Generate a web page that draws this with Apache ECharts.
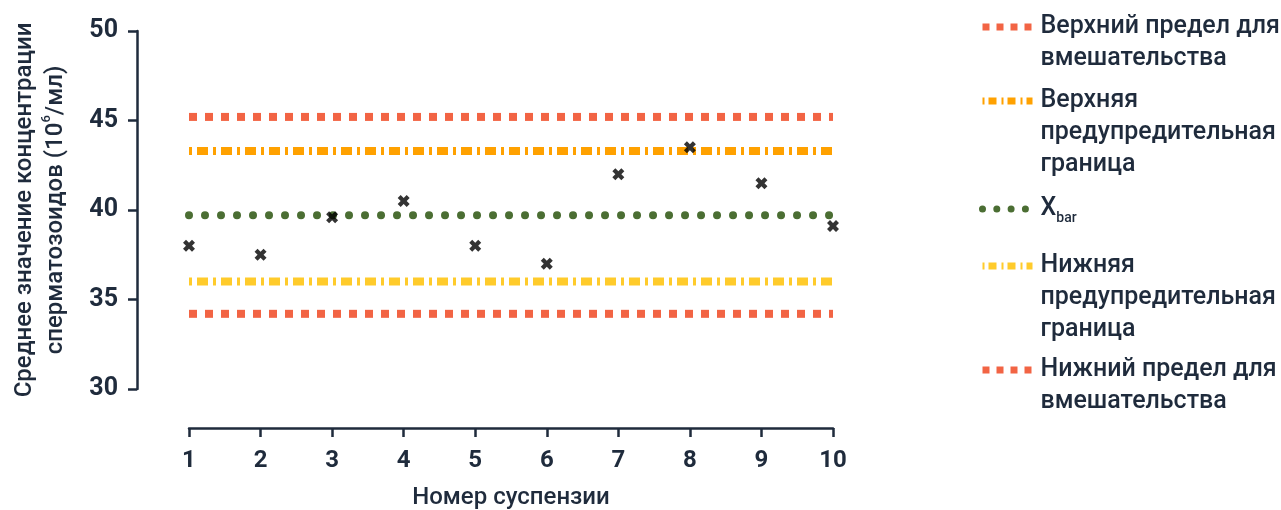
<!DOCTYPE html>
<html>
<head>
<meta charset="utf-8">
<script src="https://cdn.jsdelivr.net/npm/echarts@6/dist/echarts.min.js"></script>
<style>
	html, body { margin: 0; padding: 0; background: #fff; }
	#chart { width: 1281px; height: 510px; }
</style>
</head>
<body>
<div id="chart"></div>
<script>
	// номер суспензии и средняя концентрация
	const suspensions = [1, 2, 3, 4, 5, 6, 7, 8, 9, 10];
	const meanConc = [38.0, 37.5, 39.6, 40.5, 38.0, 37.0, 42.0, 43.5, 41.5, 39.1];

	// контрольные границы
	const upperAction = 45.2;
	const upperWarning = 43.3;
	const xBar = 39.7;
	const lowerWarning = 36.0;
	const lowerAction = 34.2;

	// шкалы
	const yMin = 30, yMax = 50, yStep = 5;

	const names = {
		ucl: 'Верхний предел для\nвмешательства',
		uwl: 'Верхняя\nпредупредительная\nграница',
		xbar: 'Xbar',
		lwl: 'Нижняя\nпредупредительная\nграница',
		lcl: 'Нижний предел для\nвмешательства'
	};

	const red = '#f26444';
	const orange = '#ffa100';
	const yellow = '#ffcb2b';
	const green = '#4b6e33';
	const ink = '#1f2b3c';
	const font = 'Roboto';
	const lh = 32;

	function hline(v) {
		return [[suspensions[0], v], [suspensions[suspensions.length - 1], v]];
	}

	function limitSeries(name, v, color, dash, cap) {
		return {
			name: name,
			type: 'line',
			symbol: 'none',
			silent: true,
			data: hline(v),
			itemStyle: { color: color },
			lineStyle: { color: color, width: 8, type: dash, cap: cap || 'butt' },
			z: 2
		};
	}

	// отдельная легенда на каждую строку, чтобы значок стоял у первой строки текста
	function legendItem(name, nLines, firstLineY, dash, width) {
		return {
			data: [name],
			orient: 'vertical',
			left: 979,
			top: firstLineY - (nLines - 0.5) * lh,
			padding: 0,
			itemWidth: 50,
			itemHeight: 14,
			selectedMode: false,
			itemStyle: { opacity: 0 },
			lineStyle: { type: dash, width: width },
			formatter: function (n) {
				return n === 'Xbar' ? '{x|X}{sub|bar}' : n;
			},
			textStyle: {
				fontFamily: font,
				fontSize: 25,
				fontWeight: 500,
				color: ink,
				lineHeight: lh,
				padding: [(nLines - 1) * lh, 0, 0, 3],
				rich: {
					x: { fontFamily: font, fontSize: 25, fontWeight: 500, color: ink, lineHeight: lh },
					sub: { fontFamily: font, fontSize: 14, fontWeight: 500, color: ink, lineHeight: 16, verticalAlign: 'bottom', padding: [14, 0, 0, 0] }
				}
			}
		};
	}

	const chart = echarts.init(document.getElementById('chart'));

	const option = {
		animation: false,
		grid: { left: 189, right: 448, top: 31, bottom: 121, outerBoundsMode: 'none' },
		legend: [
			legendItem(names.ucl, 2, 27, [7, 7], 7),
			legendItem(names.uwl, 3, 101, [2, 4, 8, 5], 7),
			legendItem(names.xbar, 1, 209, [0.001, 14.3], 7),
			legendItem(names.lwl, 3, 266, [2, 4, 8, 5], 7),
			legendItem(names.lcl, 2, 370, [7, 7], 7)
		],
		xAxis: {
			type: 'value',
			min: suspensions[0],
			max: suspensions[suspensions.length - 1],
			interval: 1,
			offset: 39,
			name: 'Номер суспензии',
			nameLocation: 'middle',
			nameGap: 58,
			nameTextStyle: { fontFamily: font, fontSize: 24, fontWeight: 500, color: ink },
			axisLine: { lineStyle: { color: ink, width: 2.5 } },
			axisTick: { length: 9, lineStyle: { color: ink, width: 2.5 } },
			axisLabel: { margin: 21, fontFamily: font, fontSize: 24, fontWeight: 'bold', color: ink },
			splitLine: { show: false }
		},
		yAxis: {
			type: 'value',
			min: yMin,
			max: yMax,
			interval: yStep,
			offset: 52,
			name: 'Среднее значение концентрации\nсперматозоидов (10{sup|6}/мл)',
			nameLocation: 'middle',
			nameGap: 66,
			nameTextStyle: {
				fontFamily: font, fontSize: 24, fontWeight: 500, color: ink, lineHeight: 31,
				rich: {
					sup: { fontFamily: font, fontSize: 13, fontWeight: 500, color: ink, verticalAlign: 'top', lineHeight: 31, padding: [0, 0, 8, 0] }
				}
			},
			axisLine: { show: true, lineStyle: { color: ink, width: 2.5 } },
			axisTick: { show: true, length: 9, lineStyle: { color: ink, width: 2.5 } },
			axisLabel: { margin: 19, fontFamily: font, fontSize: 25, fontWeight: 'bold', color: ink },
			splitLine: { show: false }
		},
		series: [
			limitSeries(names.ucl, upperAction, red, [8, 8]),
			limitSeries(names.uwl, upperWarning, orange, [3, 5, 11, 5]),
			limitSeries(names.xbar, xBar, green, [0.001, 16], 'round'),
			limitSeries(names.lwl, lowerWarning, yellow, [3, 5, 11, 5]),
			limitSeries(names.lcl, lowerAction, red, [8, 8]),
			{
				name: 'Среднее',
				type: 'scatter',
				symbol: 'path://M0,3L3,0L6,3L9,0L12,3L9,6L12,9L9,12L6,9L3,12L0,9L3,6Z',
				symbolSize: 12,
				itemStyle: { color: '#000' },
				data: suspensions.map((s, i) => [s, meanConc[i]]),
				z: 5
			}
		]
	};

	chart.setOption(option);
</script>
</body>
</html>
